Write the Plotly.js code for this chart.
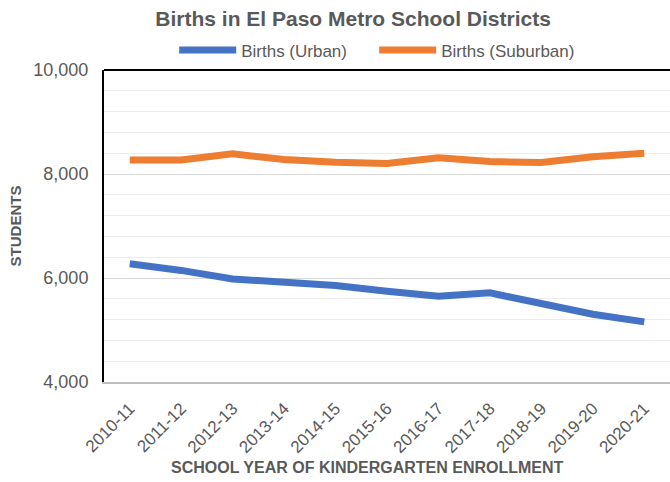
<!DOCTYPE html>
<html>
<head>
<meta charset="utf-8">
<script src="https://cdn.plot.ly/plotly-3.0.1.min.js"></script>
<style>html,body{margin:0;padding:0;background:#fff;}#chart{width:670px;height:482px;}</style>
</head>
<body>
<div id="chart"></div>
<script>
var schoolYears = ["2010-11","2011-12","2012-13","2013-14","2014-15","2015-16","2016-17","2017-18","2018-19","2019-20","2020-21"];
var birthsUrban = [6273, 6146, 5981, 5917, 5854, 5746, 5651, 5714, 5524, 5302, 5156];
var birthsSuburban = [8267, 8270, 8387, 8280, 8227, 8200, 8313, 8240, 8220, 8333, 8400];
var yTickVals = [4000, 6000, 8000, 10000];
var yTickText = ["4,000", "6,000", "8,000", "10,000"];

var FONT = "Liberation Sans, Arial, sans-serif";
var GRAY = "#595959";

var traces = [
  {x: schoolYears, y: birthsUrban, name: "Births (Urban)", type: "scatter", mode: "lines",
   line: {color: "#4472c4", width: 7}},
  {x: schoolYears, y: birthsSuburban, name: "Births (Suburban)", type: "scatter", mode: "lines",
   line: {color: "#ed7d31", width: 7}}
];

var layout = {
  width: 670, height: 482,
  margin: {l: 104, r: 0, t: 70, b: 100},
  paper_bgcolor: "#fff", plot_bgcolor: "#fff",
  font: {family: FONT, color: GRAY},
  title: {text: "<b>Births in El Paso Metro School Districts</b>", x: 0.527, xanchor: "center", y: 0.962, yanchor: "middle",
          font: {size: 21, color: GRAY, family: FONT}},
  showlegend: true,
  legend: {orientation: "h", x: 0.124, xanchor: "left", y: 1.005, yanchor: "bottom", bgcolor: "rgba(0,0,0,0)",
           font: {size: 17, color: GRAY, family: FONT}, itemwidth: 57, entrywidth: 128, traceorder: "normal"},
  xaxis: {
    type: "category", range: [-0.5, 10.5], automargin: false,
    tickangle: -45, tickfont: {size: 17, color: GRAY, family: FONT}, ticklabelstandoff: 8,
    showgrid: false, ticks: "", showline: true, linecolor: "#bfbfbf", linewidth: 2,
    mirror: false
  },
  yaxis: {
    range: [4000, 10000], tickvals: yTickVals, ticktext: yTickText, automargin: false,
    tickfont: {size: 18, color: GRAY, family: FONT}, ticklabelstandoff: 10,
    showgrid: true, gridcolor: "#d9d9d9", gridwidth: 1,
    minor: {dtick: 400, showgrid: true, gridcolor: "#ececec", gridwidth: 1},
    zeroline: false, showline: true, linecolor: "#000", linewidth: 2, ticks: "", ticklen: 0,
    title: {text: "<b>STUDENTS</b>", font: {size: 15, color: GRAY, family: FONT}, standoff: 8}
  },
  annotations: [
    {text: "<b>SCHOOL YEAR OF KINDERGARTEN ENROLLMENT</b>", xref: "paper", yref: "paper",
     x: 0.4664, y: -0.2756, xanchor: "center", yanchor: "middle", showarrow: false,
     font: {size: 16, color: GRAY, family: FONT}}
  ],
  shapes: [
    {type: "line", xref: "paper", yref: "paper", x0: 0, x1: 1, y0: 1, y1: 1, line: {color: "#000", width: 2}}
  ]
};

Plotly.newPlot("chart", traces, layout, {displayModeBar: false, staticPlot: true});
</script>
</body>
</html>
